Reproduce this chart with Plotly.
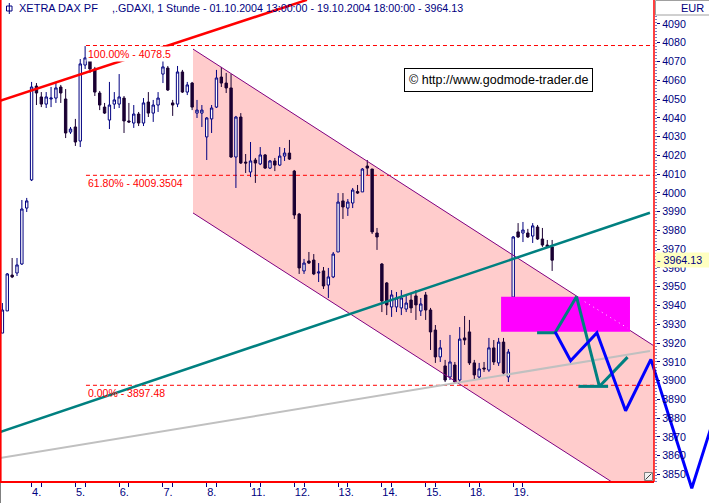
import plotly.graph_objects as go

W, H = 709, 503

# ---------------- data ----------------
candle_idx = list(range(114))
opens = [3925.3, 3937.1, 3956.2, 3957.3, 3962.1, 3991.9,
         4006.9, 4056.9, 4051.1, 4047.3, 4050.0, 4050.5, 4056.4, 4050.0, 4032.4,
         4035.1, 4027.6, 4068.1, 4070.3, 4066.0, 4053.2, 4045.7, 4038.8, 4047.3,
         4047.3, 4050.5, 4038.3, 4037.2, 4042.0, 4037.2, 4048.4, 4042.5, 4046.8,
         4063.3, 4066.5, 4047.9, 4047.3, 4064.4, 4053.7, 4058.5, 4042.5, 4042.5,
         4029.8, 4039.4, 4045.7, 4061.7, 4058.5, 4055.9, 4019.1, 4040.4, 4016.4,
         4011.1, 4017.5, 4015.4, 4020.2, 4013.2, 4017.0, 4014.8, 4019.6, 4021.2,
         4011.6, 3988.7, 3958.4, 3963.7, 3964.2, 3957.3, 3958.4, 3950.9, 3955.2,
         3968.5, 3995.7, 3991.9, 3994.6, 4000.7, 4000.5, 4014.3, 4012.7, 3978.6,
         3962.1, 3952.0, 3939.2, 3939.2, 3938.7, 3938.1, 3942.9, 3945.1, 3937.1,
         3945.6, 3937.6, 3926.9, 3912.6, 3907.8, 3901.9, 3908.3, 3900.3, 3922.7,
         3925.9, 3909.4, 3901.9, 3906.7, 3905.6, 3917.4, 3909.4, 3920.5, 3901.9,
         3944.5, 3979.2, 3978.6, 3978.6, 3977.0, 3981.8, 3975.4, 3972.2, 3971.2]
highs = [3941.3, 3957.3, 3965.3, 3965.3, 3996.2, 3997.3,
         4059.1, 4058.5, 4053.7, 4053.7, 4056.4, 4059.1, 4057.5, 4055.3, 4035.1,
         4039.4, 4071.3, 4078.2, 4072.4, 4067.1, 4054.3, 4047.9, 4059.1, 4053.7,
         4063.3, 4051.6, 4047.9, 4046.8, 4043.1, 4050.5, 4053.7, 4049.5, 4053.7,
         4070.8, 4067.6, 4049.5, 4067.6, 4065.5, 4059.1, 4059.1, 4049.5, 4046.8,
         4040.4, 4046.8, 4065.5, 4067.1, 4063.9, 4063.3, 4041.0, 4042.5, 4020.7,
         4027.1, 4018.6, 4024.4, 4020.7, 4017.5, 4018.6, 4024.4, 4023.9, 4028.2,
         4012.2, 3989.3, 3964.8, 3968.5, 3967.4, 3962.6, 3960.5, 3960.0, 3968.5,
         3999.9, 3999.9, 3996.7, 4002.6, 4004.2, 4013.2, 4017.5, 4012.7, 3981.3,
         3962.6, 3952.5, 3948.2, 3947.2, 3948.2, 3945.1, 3946.1, 3948.2, 3944.0,
         3947.2, 3938.7, 3929.6, 3921.6, 3911.0, 3924.3, 3909.9, 3928.5, 3934.4,
         3932.3, 3911.0, 3909.4, 3909.9, 3922.7, 3921.6, 3922.7, 3922.7, 3916.8,
         3977.0, 3983.9, 3984.5, 3980.8, 3983.9, 3982.9, 3981.3, 3974.9, 3974.9]
lows = [3925.3, 3937.1, 3954.6, 3955.7, 3961.6, 3989.8,
        4006.3, 4046.8, 4045.7, 4045.2, 4045.7, 4047.9, 4047.9, 4029.2, 4031.4,
        4025.0, 4024.4, 4066.0, 4063.9, 4051.6, 4044.1, 4042.0, 4034.0, 4044.7,
        4045.2, 4031.9, 4037.2, 4034.6, 4035.6, 4035.6, 4040.4, 4037.8, 4043.1,
        4058.5, 4054.3, 4041.0, 4045.7, 4053.2, 4052.1, 4044.1, 4039.9, 4035.1,
        4017.5, 4031.9, 4045.2, 4056.4, 4053.2, 4018.6, 4002.6, 4015.4, 4010.6,
        4008.4, 4005.3, 4014.8, 4012.7, 4012.7, 4011.6, 4014.3, 4017.0, 4017.5,
        3986.1, 3956.8, 3956.8, 3962.1, 3956.2, 3952.5, 3948.8, 3944.0, 3954.6,
        3968.5, 3986.1, 3987.7, 3991.9, 3999.4, 4000.5, 4009.5, 3978.1, 3969.6,
        3936.5, 3934.9, 3933.9, 3936.5, 3934.9, 3936.5, 3936.0, 3932.3, 3934.4,
        3932.3, 3916.3, 3909.4, 3909.9, 3899.2, 3900.3, 3898.2, 3899.2, 3919.0,
        3908.3, 3900.3, 3900.3, 3904.6, 3904.6, 3908.3, 3907.8, 3902.4, 3899.2,
        3944.5, 3976.0, 3973.8, 3976.0, 3973.3, 3974.9, 3971.2, 3970.6, 3958.4]
closes = [3937.6, 3956.8, 3955.2, 3961.6, 3991.4, 3995.7,
          4056.4, 4053.2, 4047.3, 4051.1, 4050.5, 4055.9, 4053.2, 4031.9, 4034.0,
          4027.1, 4068.7, 4071.9, 4066.0, 4053.7, 4046.8, 4042.5, 4046.8, 4049.5,
          4051.1, 4038.3, 4037.8, 4042.0, 4037.2, 4047.9, 4042.5, 4046.8, 4050.5,
          4067.1, 4054.8, 4046.8, 4064.4, 4053.7, 4057.5, 4045.7, 4044.1, 4044.1,
          4039.9, 4045.2, 4061.2, 4058.5, 4055.9, 4019.1, 4040.4, 4015.9, 4015.9,
          4017.0, 4015.9, 4020.2, 4013.2, 4017.0, 4014.8, 4019.6, 4021.2, 4018.0,
          3988.2, 3960.0, 3962.6, 3962.6, 3956.8, 3957.8, 3950.4, 3955.2, 3967.4,
          3995.1, 3992.5, 3995.1, 4001.5, 3999.9, 4012.7, 4013.2, 3979.2, 3976.5,
          3942.4, 3940.3, 3945.6, 3944.0, 3944.0, 3941.3, 3938.7, 3940.3, 3940.8,
          3937.6, 3925.9, 3912.6, 3917.4, 3900.3, 3909.9, 3899.2, 3922.1, 3921.6,
          3909.4, 3903.0, 3906.2, 3906.2, 3917.4, 3909.9, 3920.5, 3904.0, 3915.2,
          3976.5, 3976.5, 3980.2, 3976.5, 3982.4, 3975.4, 3972.2, 3971.2, 3964.13]

day_first_candle = [6, 15, 24, 33, 42, 51, 60, 69, 78, 87, 96, 105]
day_tick_marks = [6, 8, 15, 17, 24, 26, 33, 35, 42, 44, 51, 53, 60, 62,
                  69, 71, 78, 80, 87, 89, 96, 98, 105, 107]
day_labels = ["4.", "5.", "6.", "7.", "8.", "11.", "12.", "13.", "14.", "15.", "18.", "19."]

price_ticks = list(range(3850, 4091, 10))
last_price = 3964.13

fib_levels = [4078.5, 4009.3504, 3897.48]
fib_texts = ["100.00% - 4078.5", "61.80% - 4009.3504", "0.00% - 3897.48"]

channel_upper_x = [39.18, 133.8]
channel_upper_y = [4076.6, 3918.7]
channel_lower_x = [39.18, 125.3]
channel_lower_y = [3989.3, 3845.95]
channel_fill_x = [39.18, 133.93, 133.93, 125.3, 39.18]
channel_fill_y = [4076.6, 3918.6, 3845.95, 3845.95, 3989.3]

red_trend_x = [-0.5, 62.6]
red_trend_y = [4049.0, 4102.8]
teal_trend_x = [-0.5, 133.1]
teal_trend_y = [3872.6, 3989.4]
gray_trend_x = [-0.5, 133.1]
gray_trend_y = [3858.7, 3915.75]

zone_x = [102.5, 129.0, 129.0, 102.5, 102.5]
zone_y = [3944.7, 3944.7, 3926.0, 3926.0, 3944.7]
zone_dots_x = [119.7, 128.5]
zone_dots_y = [3942.0, 3928.0]

teal_path_x = [109.9, 113.6, 118.0, 122.7, None, 118.4, 124.5, None, 122.8, 128.5]
teal_path_y = [3925.5, 3925.5, 3944.7, 3897.1, None, 3896.9, 3896.9, None, 3897.1, 3912.5]
blue_path_x = [113.6, 116.8, 122.2, 128.1, 133.3, 141.7, 147.0]
blue_path_y = [3926.0, 3910.6, 3925.5, 3883.9, 3911.3, 3842.6, 3886.0]

# ---------------- layout constants ----------------
X_RANGE = [-0.4933, 145.24]
Y_RANGE = [3834.77, 4102.75]
FIB_X0, FIB_X1 = 17.18, 133.93
NAVY = "#000080"
FONT = "Liberation Sans, Arial, sans-serif"


def px(x):
    return x / W


def py(y):
    return 1 - y / H


fig = go.Figure()

fig.add_trace(go.Candlestick(
    x=candle_idx, open=opens, high=highs, low=lows, close=closes,
    increasing=dict(line=dict(color=NAVY, width=1), fillcolor="#ffffff"),
    decreasing=dict(line=dict(color="#1a0033", width=1), fillcolor="#1a0033"),
    whiskerwidth=0, hoverinfo="skip", showlegend=False))

for xs, ys in [(channel_upper_x, channel_upper_y), (channel_lower_x, channel_lower_y)]:
    fig.add_trace(go.Scatter(x=xs, y=ys, mode="lines",
                             line=dict(color="#800080", width=1),
                             hoverinfo="skip", showlegend=False))

fig.add_trace(go.Scatter(x=gray_trend_x, y=gray_trend_y, mode="lines",
                         line=dict(color="#c0c0c0", width=2),
                         hoverinfo="skip", showlegend=False))
fig.add_trace(go.Scatter(x=teal_trend_x, y=teal_trend_y, mode="lines",
                         line=dict(color="#008080", width=2.5),
                         hoverinfo="skip", showlegend=False))
fig.add_trace(go.Scatter(x=red_trend_x, y=red_trend_y, mode="lines",
                         line=dict(color="#ff0000", width=2.5),
                         hoverinfo="skip", showlegend=False))

fig.add_trace(go.Scatter(x=zone_x, y=zone_y, fill="toself", fillcolor="#ff00ff",
                         mode="lines", line=dict(width=0),
                         hoverinfo="skip", showlegend=False))
fig.add_trace(go.Scatter(x=zone_dots_x, y=zone_dots_y, mode="lines",
                         line=dict(color="#ffe0ff", width=1, dash="1px,4px"),
                         hoverinfo="skip", showlegend=False))

fig.add_trace(go.Scatter(x=teal_path_x, y=teal_path_y, mode="lines",
                         line=dict(color="#008080", width=3),
                         hoverinfo="skip", showlegend=False))
fig.add_trace(go.Scatter(x=blue_path_x, y=blue_path_y, mode="lines",
                         line=dict(color="#0000ff", width=3),
                         hoverinfo="skip", showlegend=False))

# invisible anchors so the overlaying axes get drawn
for xa, ya in [("x2", "y"), ("x3", "y"), ("x", "y2")]:
    fig.add_trace(go.Scatter(x=[X_RANGE[0]], y=[Y_RANGE[0]], xaxis=xa, yaxis=ya,
                             mode="markers", marker=dict(opacity=0, size=1),
                             hoverinfo="skip", showlegend=False))

fill_path = "M " + " L ".join("%s,%s" % (x, y) for x, y in zip(channel_fill_x, channel_fill_y)) + " Z"
shapes = [dict(type="path", xref="x", yref="y", path=fill_path, layer="below",
               fillcolor="#ffcccc", line=dict(width=0))]
for lvl in fib_levels:
    shapes.append(dict(type="line", xref="x", yref="y", x0=FIB_X0, x1=FIB_X1, y0=lvl, y1=lvl,
                       layer="below", line=dict(color="#ff0000", width=1, dash="4px,3px")))
shapes += [
    dict(type="line", xref="paper", yref="paper", x0=px(0.8), x1=px(0.8), y0=py(0), y1=py(482),
         line=dict(color="#ff0000", width=1.6)),
    dict(type="line", xref="paper", yref="paper", x0=px(0), x1=px(654), y0=py(482), y1=py(482),
         line=dict(color="#ff0000", width=2)),
    dict(type="line", xref="paper", yref="paper", x0=px(654), x1=px(654), y0=py(0), y1=py(482),
         line=dict(color="#ff0000", width=1.5)),
    dict(type="line", xref="paper", yref="paper", x0=px(0.5), x1=px(0.5), y0=py(483), y1=py(503),
         line=dict(color="#808080", width=1)),
    dict(type="rect", xref="paper", yref="paper", x0=px(655.5), x1=px(709.5), y0=py(15), y1=py(0.5),
         line=dict(color="#a0a0a0", width=1), fillcolor="#ffffff"),
    dict(type="line", xref="paper", yref="paper", x0=px(656), x1=px(656), y0=py(16), y1=py(482),
         line=dict(color=NAVY, width=1, dash="1px,2px")),
    # chart icon at top-left
    dict(type="rect", xref="paper", yref="paper", x0=px(6.5), x1=px(12), y0=py(11), y1=py(6),
         line=dict(color=NAVY, width=1)),
    dict(type="line", xref="paper", yref="paper", x0=px(9.3), x1=px(9.3), y0=py(14), y1=py(3),
         line=dict(color=NAVY, width=1)),
    # small resize grip at bottom-right of the chart
    dict(type="rect", xref="paper", yref="paper", x0=px(644.5), x1=px(652.5), y0=py(480.5), y1=py(472.5),
         line=dict(color="#808080", width=1), fillcolor="#f0f0f0"),
    dict(type="line", xref="paper", yref="paper", x0=px(645.5), x1=px(651.5), y0=py(479.5), y1=py(473.5),
         line=dict(color="#404040", width=1)),
]

annotations = [
    dict(xref="paper", yref="paper", x=px(17), y=py(8), xanchor="left", yanchor="middle",
         text="XETRA DAX PF", showarrow=False, font=dict(color=NAVY, size=11, family=FONT)),
    dict(xref="paper", yref="paper", x=px(110), y=py(8), xanchor="left", yanchor="middle",
         text=",.GDAXI, 1 Stunde - 01.10.2004 13:00:00 - 19.10.2004 18:00:00 - 3964.13",
         showarrow=False, font=dict(color=NAVY, size=10.7, family=FONT)),
    dict(xref="paper", yref="paper", x=px(706), y=py(8), xanchor="right", yanchor="middle",
         text="EUR", showarrow=False, font=dict(color=NAVY, size=11, family=FONT)),
    dict(xref="paper", yref="y", x=px(655), y=last_price, xanchor="left", yanchor="middle",
         text="- %.2f" % last_price, showarrow=False, bgcolor="#ffffc0", width=52, align="left",
         borderpad=1, font=dict(color=NAVY, size=10.7, family=FONT)),
    dict(xref="paper", yref="paper", x=px(498.5), y=py(80), xanchor="center", yanchor="middle",
         text="© http://www.godmode-trader.de", showarrow=False, bgcolor="#ffffff",
         bordercolor="#000000", borderwidth=1, borderpad=4,
         font=dict(color="#000000", size=12.5, family=FONT)),
]
for lvl, txt in zip(fib_levels, fib_texts):
    annotations.append(dict(x=FIB_X0, y=lvl, xref="x", yref="y", xanchor="left", yanchor="top",
                            text=txt, showarrow=False, bgcolor="#ffffff" if lvl > 4050 else None,
                            borderpad=1, font=dict(color="#ff0000", size=10.5, family=FONT)))

fig.update_layout(
    width=W, height=H, autosize=False,
    margin=dict(l=0, r=0, t=0, b=0, pad=0),
    paper_bgcolor="#ffffff", plot_bgcolor="#ffffff",
    showlegend=False, boxgap=0.3, boxgroupgap=0.3,
    font=dict(family=FONT, size=11, color=NAVY),
    xaxis=dict(range=X_RANGE, showgrid=False, zeroline=False, showline=False,
               showticklabels=False, ticks="", rangeslider=dict(visible=False), fixedrange=True),
    yaxis=dict(range=Y_RANGE, showgrid=False, zeroline=False, showline=False,
               showticklabels=False, ticks="", fixedrange=True),
    yaxis2=dict(overlaying="y", anchor="free", position=px(656), side="right",
                range=Y_RANGE, tickmode="array", tickvals=price_ticks,
                ticktext=[str(v) for v in price_ticks], ticks="outside", ticklen=3,
                tickcolor=NAVY, tickfont=dict(color=NAVY, size=10.7, family=FONT),
                showgrid=False, zeroline=False, showline=False, fixedrange=True),
    xaxis2=dict(overlaying="x", anchor="free", position=py(482), side="bottom",
                range=X_RANGE, tickmode="array", tickvals=day_tick_marks,
                ticktext=["" for _ in day_tick_marks], ticks="outside", ticklen=4,
                tickcolor=NAVY, showgrid=False, zeroline=False, showline=False,
                fixedrange=True, rangeslider=dict(visible=False)),
    xaxis3=dict(overlaying="x", anchor="free", position=py(482), side="bottom",
                range=X_RANGE, tickmode="array", tickvals=day_first_candle,
                ticktext=day_labels, ticks="outside", ticklen=5, tickcolor="rgba(0,0,0,0)",
                ticklabelposition="outside right",
                tickfont=dict(color=NAVY, size=11, family=FONT),
                showgrid=False, zeroline=False, showline=False,
                fixedrange=True, rangeslider=dict(visible=False)),
    shapes=shapes, annotations=annotations,
)

fig.write_html("out.html", config={"staticPlot": True},
               post_script="document.body.style.margin='0px';document.body.style.overflow='hidden';")
